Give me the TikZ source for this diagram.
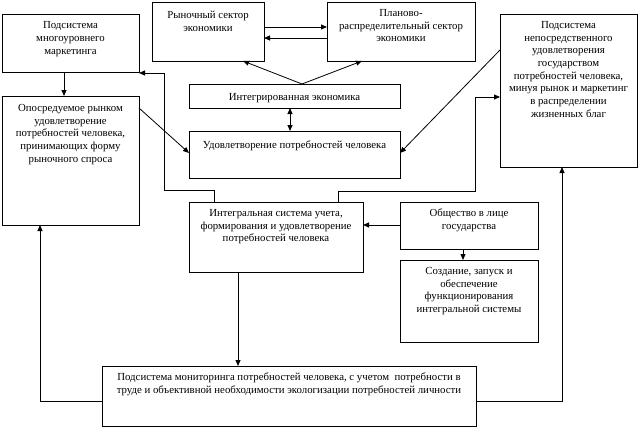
\documentclass[tikz,border=0pt]{standalone}
\usepackage{fontspec}
\setmainfont{Liberation Serif}
\usetikzlibrary{arrows.meta}
\newcommand{\bxt}[4]{\parbox[c][#2][t]{#1}{\centering\vspace*{#3}\rule{0pt}{8pt}#4\par}}
\tikzset{
  box/.style={draw, line width=0.8pt, inner sep=0pt, outer sep=0pt, anchor=north west,
    font=\fontsize{10.8pt}{12.7pt}\selectfont},
  arr/.style={line width=0.8pt, -{Triangle[length=6pt,width=5pt]}},
  dbl/.style={line width=0.8pt, {Triangle[length=6pt,width=5pt]}-{Triangle[length=6pt,width=5pt]}},
  ln/.style={line width=0.8pt}
}
\begin{document}
\begin{tikzpicture}[x=1pt,y=-1pt]
\fill[white] (0,0) rectangle (640,428);
\useasboundingbox (0,0) rectangle (640,428);
\node[box] (mark) at (2,14) {\bxt{137pt}{58pt}{7pt}{Подсистема\\многоуровнего\\маркетинга}};
\node[box] (ryn) at (152,2) {\bxt{112pt}{59pt}{8.5pt}{Рыночный сектор\\экономики}};
\node[box] (plan) at (327,2) {\bxt{148pt}{59pt}{6.5pt}{Планово-\\распределительный сектор\\экономики}};
\node[box] (nep) at (500,14) {\bxt{137pt}{153pt}{6.5pt}{Подсистема\\непосредственного\\удовлетворения\\государством\\потребностей человека,\\минуя рынок и маркетинг\\в распределении\\жизненных благ}};
\node[box] (integ) at (189,84) {\bxt{211pt}{24pt}{8.5pt}{Интегрированная экономика}};
\node[box] (udov) at (189,131) {\bxt{211pt}{47pt}{9.5pt}{Удовлетворение потребностей человека}};
\node[box] (opos) at (2,96) {\bxt{137pt}{129pt}{7.5pt}{Опосредуемое рынком\\удовлетворение\\потребностей человека,\\принимающих форму\\рыночного спроса}};
\node[box] (isys) at (189,202) {\bxt{174pt}{70pt}{6.5pt}{Интегральная система учета,\\формирования и удовлетворение\\потребностей человека}};
\node[box] (obsh) at (400,202) {\bxt{138pt}{47pt}{6.5pt}{Общество в лице\\государства}};
\node[box] (sozd) at (400,260) {\bxt{138pt}{82pt}{6.5pt}{Создание, запуск и\\обеспечение\\функционирования\\интегральной системы}};
\node[box] (mon) at (102,366) {\bxt{374pt}{60pt}{6.5pt}{Подсистема мониторинга потребностей человека, с учетом\ \ потребности в\\труде и объективной необходимости экологизации потребностей личности}};
% connectors
\draw[arr] (ryn.east |- 0,27) -- (plan.west |- 0,27);
\draw[arr] (plan.west |- 0,38) -- (ryn.east |- 0,38);
\coordinate (itop) at (302,84);
\draw[arr] (itop) -- (ryn.south -| 243,0);
\draw[arr] (itop) -- (plan.south -| 362,0);
\draw[dbl] (integ.south -| 290,0) -- (udov.north -| 290,0);
\draw[arr] (mark.south -| 64,0) -- (opos.north -| 64,0);
\draw[arr] (isys.north -| 214,0) -- (214,190) -- (164,190) -- (164,73) -- (mark.east |- 0,73);
\draw[arr] (opos.east |- 0,108) -- (udov.west |- 0,153);
\draw[arr] (nep.west |- 0,50) -- (udov.east |- 0,153);
\draw[arr] (isys.north -| 338,0) -- (338,191) -- (475,191) -- (475,97) -- (nep.west |- 0,97);
\draw[arr] (obsh.west |- 0,225) -- (isys.east |- 0,225);
\draw[arr] (obsh.south -| 463,0) -- (sozd.north -| 463,0);
\draw[arr] (isys.south -| 238,0) -- (mon.north -| 238,0);
\draw[arr] (mon.west |- 0,401) -- (40,401) -- (opos.south -| 40,0);
\draw[arr] (mon.east |- 0,401) -- (562,401) -- (nep.south -| 562,0);
\end{tikzpicture}
\end{document}
